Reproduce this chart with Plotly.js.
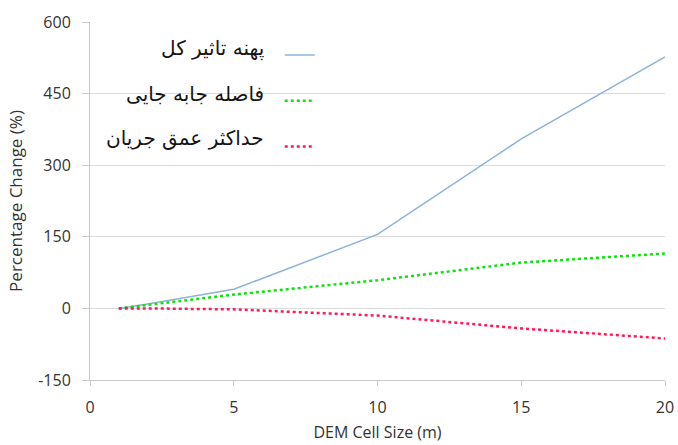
<!DOCTYPE html>
<html>
<head>
<meta charset="utf-8">
<script src="https://cdn.plot.ly/plotly-3.0.1.min.js"></script>
<style>html,body{margin:0;padding:0;background:#fff}#chart{width:678px;height:445px}</style>
</head>
<body>
<div id="chart"></div>
<script>
const cellSize = [1, 2, 5, 10, 15, 20];
const totalImpact = [0, 9, 40, 155, 355, 527];
const displacement = [0, 7, 29, 59, 96, 115];
const maxDepth = [0, 0, -2, -15, -42, -63];
const seriesNames = ['پهنه تاثیر کل', 'فاصله جابه جایی', 'حداکثر عمق جریان'];
const yTicks = [-150, 0, 150, 300, 450, 600];
const xTicks = [0, 5, 10, 15, 20];

const traces = [
  {x: cellSize, y: totalImpact, mode: 'lines', line: {color: '#8fb3d8', width: 1.5},
   name: ' ', legendgroup: 'a'},
  {x: cellSize, y: displacement, mode: 'lines', line: {color: '#10e010', width: 2.5, dash: 'dot'},
   name: ' ', legendgroup: 'b'},
  {x: cellSize, y: maxDepth, mode: 'lines', line: {color: '#ff1a55', width: 2.5, dash: 'dot'},
   name: ' ', legendgroup: 'c'}
];

const rowY = [0.925, 0.80, 0.676];
const annotations = seriesNames.map((t, i) => ({
  text: t, xref: 'paper', yref: 'paper', x: 0.306, y: rowY[i], xanchor: 'right', yanchor: 'middle',
  showarrow: false, font: {family: 'DejaVu Sans', size: 20, color: '#151515'}
}));

const layout = {
  width: 678, height: 445,
  margin: {l: 90, r: 13, t: 22, b: 65},
  paper_bgcolor: '#fff', plot_bgcolor: '#fff',
  showlegend: true,
  legend: {x: 0.33, y: 0.955, xanchor: 'left', yanchor: 'top', bgcolor: 'rgba(0,0,0,0)',
    font: {size: 16}, tracegroupgap: 22, traceorder: 'grouped'},
  annotations: annotations,
  xaxis: {range: [0, 20], tickvals: xTicks, ticktext: xTicks.map(String),
    showgrid: false, zeroline: false, showline: true, linecolor: '#c8c8c8', linewidth: 1,
    ticks: 'outside', ticklen: 5, tickcolor: '#c8c8c8', ticklabelstandoff: 8,
    tickfont: {family: 'Open Sans', size: 16, color: '#333'},
    title: {text: 'DEM Cell Size (m)', font: {family: 'Open Sans', size: 16, color: '#333'}, standoff: 9}},
  yaxis: {range: [-150, 600], tickvals: yTicks, ticktext: yTicks.map(String),
    showgrid: true, gridcolor: '#dcdcdc', gridwidth: 1, zeroline: false,
    showline: true, linecolor: '#c8c8c8', linewidth: 1,
    ticks: 'outside', ticklen: 7, tickcolor: '#c8c8c8', ticklabelstandoff: 8,
    tickfont: {family: 'Open Sans', size: 16, color: '#333'},
    title: {text: 'Percentage Change (%)', font: {family: 'Open Sans', size: 17, color: '#333'}, standoff: 11}}
};

Plotly.newPlot('chart', traces, layout, {displayModeBar: false, staticPlot: true});
</script>
</body>
</html>
